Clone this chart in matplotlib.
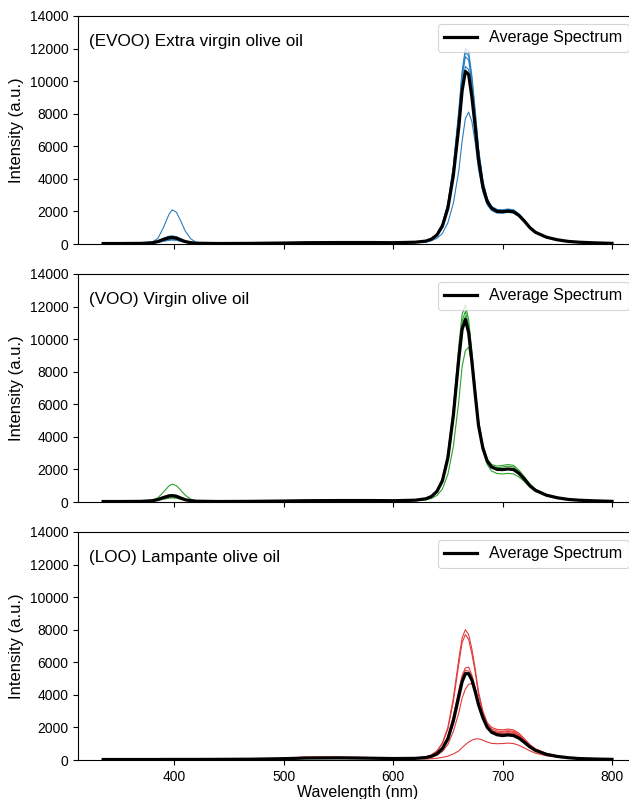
import matplotlib
matplotlib.use('Agg')
import matplotlib.pyplot as plt

plt.rcParams['font.family'] = ['Liberation Sans', 'DejaVu Sans']

# wavelength grid (nm), shared by all spectra
wavelength = [335, 350, 370, 380, 385, 390, 395, 398, 402, 406, 410, 415, 420,
              440, 470, 500, 520, 550, 580, 600, 620,
              630, 635, 640, 645, 650, 655, 660, 663, 666, 669, 672, 675, 678, 682, 686,
              690, 695, 700, 705, 710, 715, 720, 725, 730, 740, 750, 760, 770, 785, 800]

# (EVOO) individual spectra
evoo_spectra = [
    [30, 30, 40, 70, 120, 220, 300, 320, 290, 200, 120, 70, 45,
     30, 40, 60, 80, 90, 90, 80, 110,
     200, 340, 620, 1250, 2500, 4800, 8200, 10600, 12000, 11800, 10300, 8200, 5900, 3900, 2800,
     2300, 2100, 2080, 2120, 2070, 1830, 1460, 1040, 750, 440, 270, 170, 110, 70, 40],
    [30, 30, 40, 60, 100, 180, 250, 270, 240, 170, 100, 60, 40,
     30, 40, 60, 80, 90, 90, 80, 110,
     190, 320, 590, 1200, 2400, 4600, 7900, 10200, 11500, 11300, 9800, 7800, 5600, 3700, 2700,
     2250, 2050, 2020, 2070, 2020, 1780, 1420, 1010, 730, 430, 265, 165, 110, 70, 40],
    [30, 30, 40, 90, 180, 350, 480, 500, 450, 310, 180, 90, 50,
     30, 40, 60, 80, 90, 90, 80, 110,
     185, 310, 570, 1150, 2300, 4400, 7500, 9700, 10900, 10700, 9300, 7400, 5300, 3550, 2650,
     2200, 1980, 1960, 2000, 1960, 1740, 1390, 990, 710, 420, 260, 160, 110, 70, 40],
    [30, 30, 40, 60, 100, 170, 230, 250, 230, 160, 100, 60, 40,
     30, 40, 60, 80, 90, 90, 80, 100,
     120, 200, 350, 650, 1300, 2500, 4500, 6300, 7700, 8100, 7500, 6200, 4600, 3200, 2400,
     2050, 1900, 1900, 1950, 1900, 1700, 1350, 980, 700, 410, 250, 160, 110, 70, 40],
    [30, 30, 40, 120, 350, 1000, 1800, 2100, 1950, 1400, 800, 320, 100,
     30, 40, 60, 80, 90, 90, 80, 110,
     195, 330, 600, 1220, 2450, 4700, 8000, 10400, 11800, 11550, 10050, 8000, 5750, 3800, 2750,
     2280, 2120, 2100, 2150, 2100, 1850, 1480, 1050, 760, 440, 270, 170, 110, 70, 40],
]
evoo_average = [30, 30, 40, 80, 150, 280, 380, 400, 360, 250, 150, 80, 50,
                30, 40, 60, 80, 90, 90, 80, 110,
                180, 300, 550, 1100, 2200, 4200, 7200, 9400, 10600, 10400, 9000, 7200, 5200, 3500, 2600,
                2200, 2000, 1980, 2020, 1980, 1750, 1400, 1000, 720, 420, 260, 160, 110, 70, 40]

# (VOO) individual spectra
voo_spectra = [
    [30, 30, 40, 70, 120, 220, 300, 320, 290, 200, 120, 70, 45,
     30, 40, 60, 80, 90, 90, 80, 110,
     220, 380, 720, 1450, 3000, 5800, 9600, 11500, 12100, 11200, 9200, 7000, 5000, 3500, 2650,
     2300, 2200, 2250, 2300, 2250, 1950, 1550, 1100, 780, 450, 270, 170, 110, 70, 40],
    [30, 30, 40, 90, 170, 320, 440, 460, 410, 290, 170, 90, 50,
     30, 40, 60, 80, 90, 90, 80, 110,
     210, 360, 690, 1380, 2850, 5550, 9200, 11100, 11700, 10850, 8950, 6850, 4900, 3400, 2550,
     2150, 1980, 1960, 2000, 1960, 1740, 1390, 990, 710, 420, 260, 160, 110, 70, 40],
    [30, 30, 40, 60, 100, 170, 230, 250, 230, 160, 100, 60, 40,
     30, 40, 60, 80, 90, 90, 80, 100,
     130, 220, 400, 800, 1700, 3400, 6200, 8300, 9300, 9500, 8400, 6600, 4700, 3200, 2300,
     1900, 1750, 1720, 1760, 1720, 1540, 1250, 900, 650, 380, 240, 150, 100, 60, 40],
    [30, 30, 40, 110, 260, 600, 980, 1100, 1000, 720, 420, 180, 70,
     30, 40, 60, 80, 90, 90, 80, 110,
     205, 350, 670, 1340, 2780, 5400, 9000, 10800, 11400, 10600, 8750, 6700, 4800, 3350, 2520,
     2200, 2100, 2150, 2200, 2150, 1880, 1500, 1060, 760, 440, 265, 165, 110, 70, 40],
]
voo_average = [30, 30, 40, 80, 150, 270, 370, 390, 350, 240, 140, 80, 50,
               30, 40, 60, 80, 90, 90, 80, 110,
               200, 340, 650, 1300, 2700, 5300, 8800, 10600, 11200, 10400, 8600, 6600, 4700, 3300, 2500,
               2150, 2000, 1990, 2030, 1990, 1760, 1400, 1000, 720, 420, 260, 160, 110, 70, 40]

# (LOO) individual spectra
loo_spectra = [
    [30, 30, 30, 30, 30, 35, 35, 35, 35, 35, 35, 35, 35,
     40, 60, 110, 170, 180, 150, 110, 120,
     200, 320, 560, 1050, 2000, 3800, 6200, 7500, 8000, 7700, 6800, 5600, 4200, 3000, 2300,
     2000, 1880, 1850, 1900, 1850, 1640, 1300, 950, 690, 400, 245, 155, 100, 65, 40],
    [30, 30, 30, 30, 30, 35, 35, 35, 35, 35, 35, 35, 35,
     40, 55, 100, 150, 160, 130, 100, 110,
     190, 300, 530, 1000, 1900, 3600, 5900, 7200, 7700, 7400, 6500, 5400, 4000, 2900, 2200,
     1900, 1780, 1760, 1800, 1760, 1560, 1250, 910, 660, 390, 240, 150, 100, 65, 40],
    [30, 30, 30, 30, 30, 35, 35, 35, 35, 35, 35, 35, 35,
     40, 50, 90, 130, 140, 120, 90, 100,
     160, 250, 420, 780, 1450, 2700, 4300, 5200, 5650, 5700, 5200, 4450, 3500, 2650, 2050,
     1750, 1620, 1600, 1640, 1600, 1420, 1140, 840, 610, 360, 225, 145, 95, 60, 40],
    [30, 30, 30, 30, 30, 35, 35, 35, 35, 35, 35, 35, 35,
     40, 50, 80, 120, 130, 110, 90, 100,
     150, 240, 400, 740, 1380, 2600, 4150, 5050, 5500, 5450, 5000, 4300, 3400, 2600, 2050,
     1800, 1700, 1700, 1750, 1700, 1500, 1200, 880, 640, 380, 235, 150, 100, 65, 40],
    [30, 30, 30, 30, 30, 35, 35, 35, 35, 35, 35, 35, 35,
     40, 50, 80, 120, 130, 110, 90, 90,
     120, 180, 290, 520, 950, 1750, 2900, 3800, 4350, 4650, 4700, 4300, 3600, 2800, 2150,
     1800, 1650, 1630, 1670, 1630, 1450, 1160, 850, 620, 370, 230, 145, 95, 60, 40],
    [30, 30, 30, 30, 30, 35, 35, 35, 35, 35, 35, 35, 35,
     40, 60, 120, 180, 180, 150, 100, 80,
     60, 80, 110, 160, 240, 370, 560, 760, 940, 1100, 1220, 1290, 1300, 1220, 1100,
     1020, 1000, 1010, 1040, 1010, 900, 740, 560, 420, 260, 170, 110, 75, 50, 35],
]
loo_average = [30, 30, 30, 30, 30, 35, 35, 35, 35, 35, 35, 35, 35,
               40, 50, 80, 120, 130, 110, 90, 100,
               150, 230, 380, 700, 1300, 2400, 3900, 4800, 5300, 5300, 4900, 4200, 3400, 2600, 2000,
               1700, 1550, 1500, 1540, 1500, 1340, 1080, 800, 590, 350, 220, 140, 90, 60, 40]

panel_titles = ['(EVOO) Extra virgin olive oil', '(VOO) Virgin olive oil', '(LOO) Lampante olive oil']
panel_colors = ['#2a7fc0', '#2ca02c', '#e03c3c']
y_ticks = [0, 2000, 4000, 6000, 8000, 10000, 12000, 14000]
x_ticks = [400, 500, 600, 700, 800]


def main():
    fig = plt.figure(figsize=(6.29, 7.99), dpi=100)

    # axes run a little past the right edge, as in the original crop
    bottoms = [0.6946, 0.3717, 0.0488]
    panels = [(evoo_spectra, evoo_average), (voo_spectra, voo_average), (loo_spectra, loo_average)]

    axes = []
    for i, (spectra, average) in enumerate(panels):
        ax = fig.add_axes([0.124, bottoms[i], 0.889, 0.2854])
        axes.append(ax)

        for s in spectra:
            ax.plot(wavelength, s, color=panel_colors[i], linewidth=0.8)
        ax.plot(wavelength, average, color='black', linewidth=2.3, label='Average Spectrum')

        ax.set_ylim(0, 14000)
        ax.set_yticks(y_ticks)
        ax.set_xticks(x_ticks)
        ax.tick_params(labelsize=10)
        ax.set_ylabel('Intensity (a.u.)', fontsize=12)
        ax.text(0.02, 0.886, panel_titles[i], transform=ax.transAxes,
                fontsize=12.3, va='center', ha='left')

        legend = ax.legend(loc='upper right', fontsize=11.6, handlelength=2.0)
        legend.get_frame().set_linewidth(0.8)

        if i < 2:
            ax.set_xticklabels([])

    for ax in axes:
        ax.set_xlim(312, 823)

    axes[-1].set_xlabel('Wavelength (nm)', fontsize=11.5, labelpad=1)

    plt.savefig('out.png', dpi=100)


if __name__ == '__main__':
    main()
